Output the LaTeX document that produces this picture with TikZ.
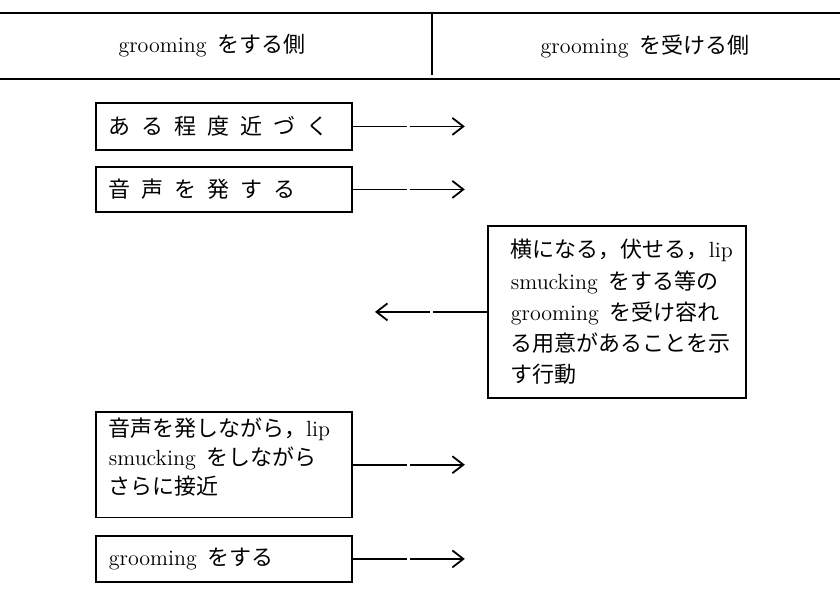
\documentclass[tikz,border=0pt]{standalone}
\usepackage{fontspec}
\newfontfamily\jp{Noto Sans CJK JP}
\newcommand\cgap{\hspace{5.5pt}}
\usetikzlibrary{arrows.meta}

\tikzset{
  box/.style={draw, line width=0.9pt, anchor=north west, align=left,
    inner xsep=6.5pt, text width=115pt,
    font=\fontsize{11}{14.5}\selectfont},
  arr/.style={-{Straight Barb[length=5.5pt,width=8.5pt]}, line width=0.9pt,
    dash pattern=on 27pt off 1.5pt on 60pt},
  rule/.style={line width=1.3pt},
}

\begin{document}
\begin{tikzpicture}[x=0.5pt,y=-0.5pt]
        \useasboundingbox (0,0) rectangle (840,601);
        % header
        \draw[rule] (0,13) -- (840,13);
        \draw[rule] (0,79) -- (840,79);
        \draw[line width=0.9pt] (432,14) -- (432,75);
        \node[font=\fontsize{11}{13}\selectfont] (doer) at (212,46) {grooming\, {\jp をする側}};
        \node[font=\fontsize{11}{13}\selectfont] (receiver) at (645,46) {grooming\, {\jp を受ける側}};
        % left column
        \node[box, minimum height=23.5pt] (near) at (95,102)
          {\jp あ\cgap る\cgap 程\cgap 度\cgap 近\cgap づ\cgap く};
        \node[box, minimum height=22.5pt] (voice) at (95,166)
          {\jp 音\cgap 声\cgap を\cgap 発\cgap す\cgap る};
        \node[box, inner ysep=3pt] (approach) at (95,411)
          {{\jp 音声を発しながら，}lip\\smucking\, {\jp をしながら}\\{\jp さらに接近}\rule[-8.5pt]{0pt}{0pt}};
        \node[box, minimum height=23pt] (groom) at (95,535) {grooming\, {\jp をする}};
        % right column
        \node[box, inner xsep=11.5pt, text width=106pt, minimum height=86pt,
          font=\fontsize{11}{15.6}\selectfont] (ready) at (487,225)
          {{\jp 横になる，伏せる，}lip\\smucking\, {\jp をする等の}\\grooming\, {\jp を受け容れ}\\{\jp る用意があることを示}\\{\jp す行動}};
        % arrows
        \foreach \Box in {near, voice, approach, groom}
          \path (\Box.east) ++(112,0) coordinate (\Box-tip);
        \path (ready.west) ++(-112,0) coordinate (ready-tip);
        \foreach \Box in {near, voice, approach, groom}
          \draw[arr] (\Box.east) -- (\Box-tip);
        \draw[arr] (ready.west) -- (ready-tip);
\end{tikzpicture}
\end{document}
